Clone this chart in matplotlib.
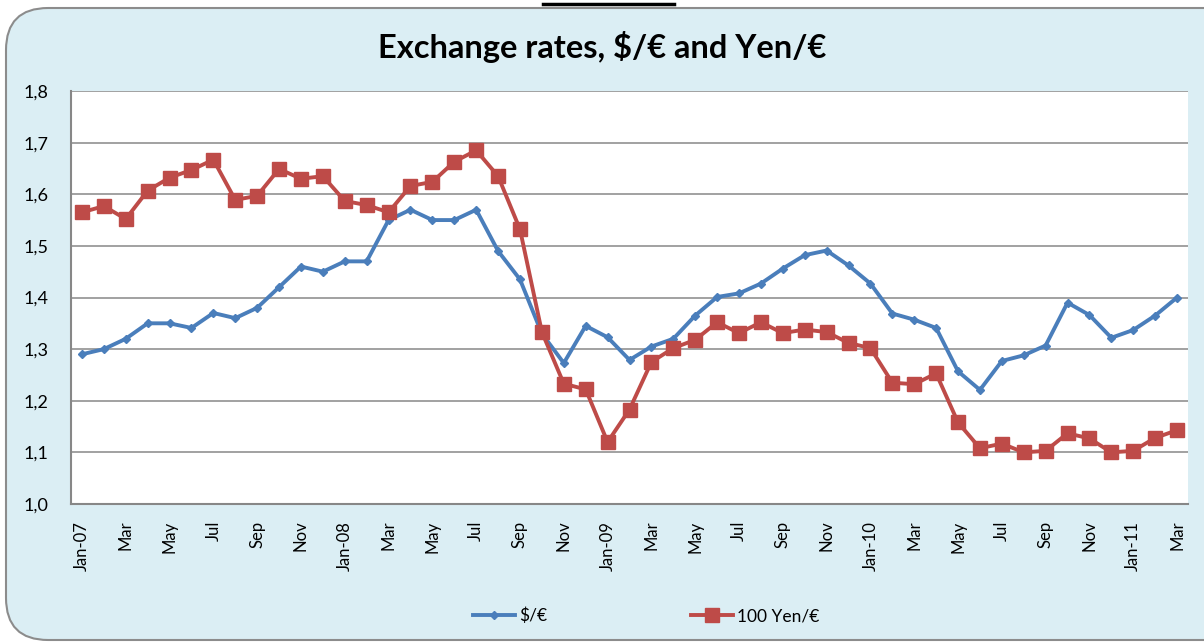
import matplotlib.pyplot as plt
from matplotlib.patches import FancyBboxPatch
from matplotlib.lines import Line2D
import numpy as np

BLUE = '#4A7EBB'
RED = '#BE4B48'
BG = '#DBEEF4'
GRID = '#878787'

plt.rcParams['font.family'] = ['Lato', 'DejaVu Sans']

# Monthly data Jan-07 .. Mar-11
usd_eur = [1.290, 1.300, 1.320, 1.350, 1.350, 1.341, 1.370, 1.360, 1.380, 1.420, 1.460, 1.450,
           1.470, 1.470, 1.550, 1.570, 1.550, 1.550, 1.570, 1.490, 1.435, 1.330, 1.273, 1.345,
           1.323, 1.279, 1.305, 1.320, 1.365, 1.401, 1.408, 1.427, 1.456, 1.482, 1.491, 1.462,
           1.427, 1.369, 1.357, 1.341, 1.257, 1.221, 1.277, 1.288, 1.307, 1.390, 1.366, 1.322,
           1.337, 1.365, 1.400]
yen_eur = [1.565, 1.577, 1.552, 1.607, 1.632, 1.647, 1.667, 1.589, 1.597, 1.649, 1.630, 1.635,
           1.587, 1.579, 1.565, 1.616, 1.624, 1.663, 1.685, 1.635, 1.532, 1.333, 1.233, 1.222,
           1.120, 1.183, 1.275, 1.302, 1.318, 1.352, 1.331, 1.352, 1.331, 1.338, 1.333, 1.312,
           1.302, 1.235, 1.232, 1.253, 1.158, 1.108, 1.117, 1.100, 1.103, 1.137, 1.127, 1.100,
           1.103, 1.128, 1.143]

months = ['Jan', 'Feb', 'Mar', 'Apr', 'May', 'Jun', 'Jul', 'Aug', 'Sep', 'Oct', 'Nov', 'Dec']
labels = []
for i in range(len(usd_eur)):
    m = months[i % 12]
    if m == 'Jan':
        labels.append('Jan-%02d' % (7 + i // 12))
    else:
        labels.append(m)

fig = plt.figure(figsize=(12.04, 6.42), dpi=100)
fig.patch.set_facecolor('white')

# Rounded chart box
box = FancyBboxPatch((6 / 1204, 2 / 642), 1.2, 1 - 10 / 642,
                     boxstyle='round,pad=0,rounding_size=0.035',
                     transform=fig.transFigure, facecolor=BG, edgecolor='#8C8C8C',
                     linewidth=1.5, mutation_aspect=1204 / 642, zorder=-5)
fig.patches.append(box)

# underline of cut-off heading above the chart
fig.add_artist(Line2D([543 / 1204, 674 / 1204], [1 - 4 / 642, 1 - 4 / 642],
                      color='black', linewidth=2.5, transform=fig.transFigure))

ax = fig.add_axes([71 / 1204, 1 - 504 / 642, (1188 - 71) / 1204, (504 - 91) / 642])
ax.set_zorder(2)
ax.set_facecolor('white')

x = np.arange(len(usd_eur))
ax.plot(x, usd_eur, color=BLUE, linewidth=2.8, marker='D', markersize=4, label='$/€', zorder=3)
ax.plot(x, yen_eur, color=RED, linewidth=2.8, marker='s', markersize=10, label='100 Yen/€', zorder=4)

ax.set_xlim(-0.5, len(usd_eur) - 0.5)
ax.set_ylim(1.0, 1.8)
yt = np.arange(1.0, 1.81, 0.1)
ax.set_yticks(yt)
ax.set_yticklabels([('%.1f' % v).replace('.', ',') for v in yt], fontsize=13)
ax.yaxis.grid(True, color=GRID, linewidth=1.1)
ax.set_axisbelow(True)

ax.set_xticks(x[::2])
ax.set_xticklabels(labels[::2], rotation=90, fontsize=12, va='top')
ax.tick_params(axis='x', length=0, pad=12)
ax.tick_params(axis='y', length=0, pad=16)

for s in ['top', 'right']:
    ax.spines[s].set_visible(False)
for s in ['left', 'bottom']:
    ax.spines[s].set_color(GRID)
    ax.spines[s].set_linewidth(1.5)

fig.text(0.5, 1 - 47 / 642, 'Exchange rates, $/€ and Yen/€', ha='center', va='center',
         fontsize=23.5, fontweight='bold')

fig.legend(loc='center', bbox_to_anchor=(0.537, 1 - 616 / 642), ncol=2, frameon=False,
           fontsize=12.5, handlelength=2.4, columnspacing=8.3, handletextpad=0.25)

fig.savefig('out.png', dpi=100, facecolor=fig.get_facecolor())
